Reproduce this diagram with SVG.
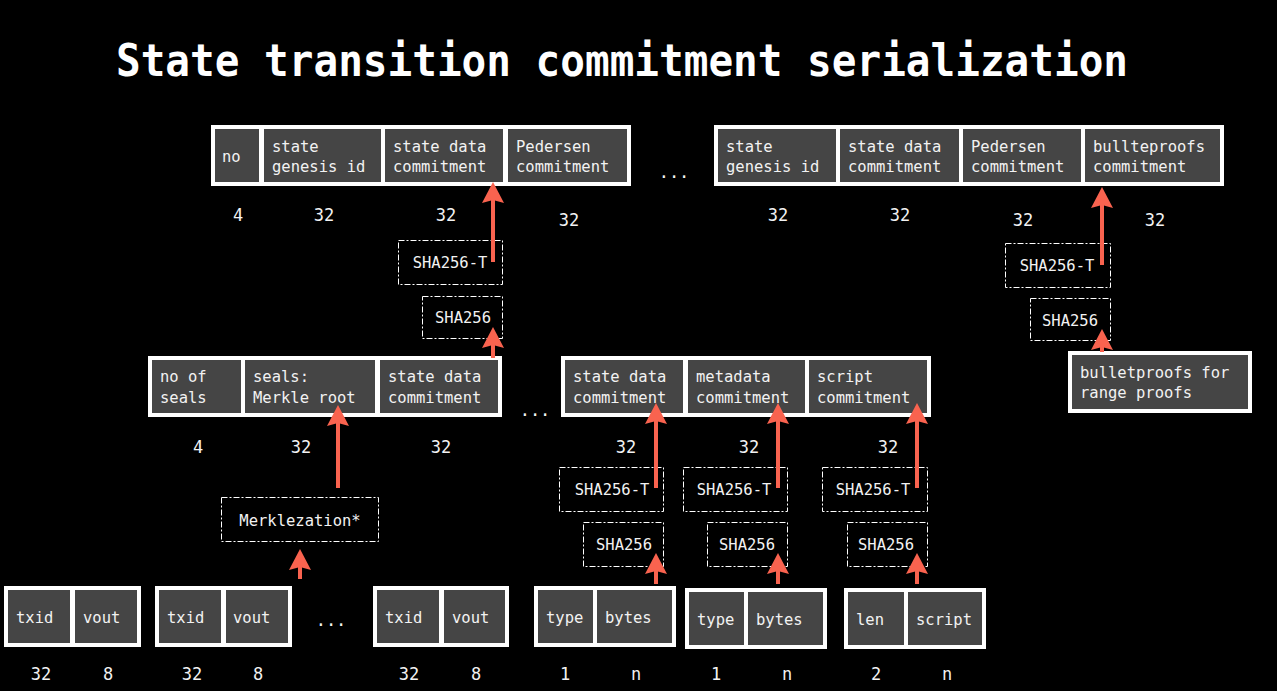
<svg xmlns="http://www.w3.org/2000/svg" width="1277" height="691" viewBox="0 0 1277 691">
<style>
.bg{fill:#000}
.outer{fill:#fff}
.cell{fill:#454545}
.t{font-family:"DejaVu Sans Mono","Liberation Mono",monospace;font-size:15.5px;fill:#f2f2f2}
.n{font-family:"DejaVu Sans Mono","Liberation Mono",monospace;font-size:17px;fill:#f2f2f2;text-anchor:middle}
.h{font-family:"DejaVu Sans Mono","Liberation Mono",monospace;font-size:15.5px;fill:#f2f2f2;text-anchor:middle}
.hb{fill:none;stroke:#fff;stroke-width:1;stroke-dasharray:6 2 2 2}
.title{font-family:"DejaVu Sans Mono","Liberation Mono",monospace;font-size:44px;font-weight:bold;fill:#fff}
.dots{font-family:"DejaVu Sans Mono","Liberation Mono",monospace;font-size:17px;fill:#f2f2f2;text-anchor:middle}
.arr{fill:none;stroke:#f9634f;stroke-width:4;marker-end:url(#ah)}
</style>
<defs>
<marker id="ah" viewBox="0 -11 21 22" refX="3" refY="0" markerWidth="21" markerHeight="22" markerUnits="userSpaceOnUse" orient="auto">
<path d="M0,-11 L21,0 L0,11 L3,0 Z" fill="#f9634f"/>
</marker>
</defs>
<rect class="bg" x="0" y="0" width="1277" height="691"/>
<text class="title" x="116" y="76" textLength="1012" lengthAdjust="spacingAndGlyphs">State transition commitment serialization</text>

<g id="rec-top-left">
<rect class="outer" x="211" y="125" width="420" height="61"/>
<rect class="cell" x="215" y="129" width="44" height="53"/>
<rect class="cell" x="264" y="129" width="117" height="53"/>
<rect class="cell" x="385" y="129" width="118" height="53"/>
<rect class="cell" x="508" y="129" width="119" height="53"/>
<text class="t" x="222" y="162">no</text>
<text class="t" x="272" y="152">state</text><text class="t" x="272" y="172">genesis id</text>
<text class="t" x="393" y="152">state data</text><text class="t" x="393" y="172">commitment</text>
<text class="t" x="516" y="152">Pedersen</text><text class="t" x="516" y="172">commitment</text>
<text class="n" x="238" y="221">4</text>
<text class="n" x="324" y="221">32</text>
<text class="n" x="446" y="221">32</text>
<text class="n" x="569" y="226">32</text>
</g>

<text class="dots" x="674" y="178">...</text>

<g id="rec-top-right">
<rect class="outer" x="714" y="125" width="510" height="61"/>
<rect class="cell" x="718" y="129" width="118" height="53"/>
<rect class="cell" x="840" y="129" width="119" height="53"/>
<rect class="cell" x="963" y="129" width="118" height="53"/>
<rect class="cell" x="1085" y="129" width="135" height="53"/>
<text class="t" x="726" y="152">state</text><text class="t" x="726" y="172">genesis id</text>
<text class="t" x="848" y="152">state data</text><text class="t" x="848" y="172">commitment</text>
<text class="t" x="971" y="152">Pedersen</text><text class="t" x="971" y="172">commitment</text>
<text class="t" x="1093" y="152">bullteproofs</text><text class="t" x="1093" y="172">commitment</text>
<text class="n" x="778" y="221">32</text>
<text class="n" x="900" y="221">32</text>
<text class="n" x="1023" y="226">32</text>
<text class="n" x="1155" y="226">32</text>
</g>

<g id="hash-sha256t-top"><rect class="hb" x="398.5" y="240.5" width="104" height="44"/><text class="h" x="450" y="268">SHA256-T</text></g>
<g id="hash-sha256-top"><rect class="hb" x="422.5" y="296.5" width="80" height="42"/><text class="h" x="463" y="323">SHA256</text></g>
<g id="hash-sha256t-bp"><rect class="hb" x="1005.5" y="243.5" width="105" height="44"/><text class="h" x="1057" y="271">SHA256-T</text></g>
<g id="hash-sha256-bp"><rect class="hb" x="1030.5" y="298.5" width="80" height="42"/><text class="h" x="1070" y="326">SHA256</text></g>

<g id="bulletproofs">
<rect class="outer" x="1068" y="351" width="184" height="62"/>
<rect class="cell" x="1072" y="355" width="176" height="54"/>
<text class="t" x="1080" y="378">bulletproofs for</text>
<text class="t" x="1080" y="398">range proofs</text>
</g>

<g id="rec-seals">
<rect class="outer" x="148" y="356" width="354" height="61"/>
<rect class="cell" x="152" y="360" width="89" height="53"/>
<rect class="cell" x="245" y="360" width="130" height="53"/>
<rect class="cell" x="380" y="360" width="118" height="53"/>
<text class="t" x="160" y="382">no of</text><text class="t" x="160" y="403">seals</text>
<text class="t" x="253" y="382">seals:</text><text class="t" x="253" y="403">Merkle root</text>
<text class="t" x="388" y="382">state data</text><text class="t" x="388" y="403">commitment</text>
<text class="n" x="198" y="453">4</text>
<text class="n" x="301" y="453">32</text>
<text class="n" x="441" y="453">32</text>
</g>

<text class="dots" x="535" y="416">...</text>

<g id="rec-state">
<rect class="outer" x="561" y="356" width="370" height="61"/>
<rect class="cell" x="565" y="360" width="118" height="53"/>
<rect class="cell" x="688" y="360" width="117" height="53"/>
<rect class="cell" x="809" y="360" width="118" height="53"/>
<text class="t" x="573" y="382">state data</text><text class="t" x="573" y="403">commitment</text>
<text class="t" x="696" y="382">metadata</text><text class="t" x="696" y="403">commitment</text>
<text class="t" x="817" y="382">script</text><text class="t" x="817" y="403">commitment</text>
<text class="n" x="626" y="453">32</text>
<text class="n" x="749" y="453">32</text>
<text class="n" x="888" y="453">32</text>
</g>

<g id="merklezation"><rect class="hb" x="221.5" y="497.5" width="157" height="44"/><text class="h" x="300" y="526">Merklezation*</text></g>

<g id="hash-sha256t-1"><rect class="hb" x="559.5" y="467.5" width="104" height="44"/><text class="h" x="612" y="495">SHA256-T</text></g>
<g id="hash-sha256t-2"><rect class="hb" x="683.5" y="467.5" width="104" height="44"/><text class="h" x="734" y="495">SHA256-T</text></g>
<g id="hash-sha256t-3"><rect class="hb" x="822.5" y="467.5" width="105" height="44"/><text class="h" x="873" y="495">SHA256-T</text></g>
<g id="hash-sha256-1"><rect class="hb" x="583.5" y="522.5" width="80" height="44"/><text class="h" x="624" y="550">SHA256</text></g>
<g id="hash-sha256-2"><rect class="hb" x="707.5" y="522.5" width="80" height="44"/><text class="h" x="747" y="550">SHA256</text></g>
<g id="hash-sha256-3"><rect class="hb" x="847.5" y="522.5" width="80" height="44"/><text class="h" x="886" y="550">SHA256</text></g>

<g id="seal-1">
<rect class="outer" x="4" y="586" width="137" height="61"/>
<rect class="cell" x="8" y="590" width="62" height="53"/>
<rect class="cell" x="75" y="590" width="62" height="53"/>
<text class="t" x="16" y="623">txid</text><text class="t" x="83" y="623">vout</text>
<text class="n" x="41" y="680">32</text><text class="n" x="108" y="680">8</text>
</g>
<g id="seal-2">
<rect class="outer" x="155" y="586" width="137" height="61"/>
<rect class="cell" x="159" y="590" width="62" height="53"/>
<rect class="cell" x="226" y="590" width="62" height="53"/>
<text class="t" x="167" y="623">txid</text><text class="t" x="233" y="623">vout</text>
<text class="n" x="192" y="680">32</text><text class="n" x="258" y="680">8</text>
</g>
<text class="dots" x="331" y="626">...</text>
<g id="seal-n">
<rect class="outer" x="373" y="586" width="136" height="61"/>
<rect class="cell" x="377" y="590" width="62" height="53"/>
<rect class="cell" x="444" y="590" width="61" height="53"/>
<text class="t" x="385" y="623">txid</text><text class="t" x="452" y="623">vout</text>
<text class="n" x="409" y="680">32</text><text class="n" x="476" y="680">8</text>
</g>
<g id="state-data">
<rect class="outer" x="534" y="586" width="142" height="61"/>
<rect class="cell" x="538" y="590" width="55" height="53"/>
<rect class="cell" x="597" y="590" width="75" height="53"/>
<text class="t" x="546" y="623">type</text><text class="t" x="605" y="623">bytes</text>
<text class="n" x="565" y="680">1</text><text class="n" x="636" y="680">n</text>
</g>
<g id="metadata">
<rect class="outer" x="685" y="588" width="142" height="61"/>
<rect class="cell" x="689" y="592" width="55" height="53"/>
<rect class="cell" x="748" y="592" width="75" height="53"/>
<text class="t" x="697" y="625">type</text><text class="t" x="756" y="625">bytes</text>
<text class="n" x="716" y="680">1</text><text class="n" x="787" y="680">n</text>
</g>
<g id="script">
<rect class="outer" x="844" y="588" width="142" height="61"/>
<rect class="cell" x="848" y="592" width="56" height="53"/>
<rect class="cell" x="908" y="592" width="74" height="53"/>
<text class="t" x="856" y="625">len</text><text class="t" x="916" y="625">script</text>
<text class="n" x="876" y="680">2</text><text class="n" x="947" y="680">n</text>
</g>

<g id="connectors">
<path class="arr" d="M493,262 V200"/>
<path class="arr" d="M493,358 V345"/>
<path class="arr" d="M1102,265 V205"/>
<path class="arr" d="M1102,352 V347"/>
<path class="arr" d="M338,488 V423"/>
<path class="arr" d="M300,579 V567"/>
<path class="arr" d="M656,488 V421"/>
<path class="arr" d="M778,488 V421"/>
<path class="arr" d="M917,488 V421"/>
<path class="arr" d="M656,584 V571"/>
<path class="arr" d="M778,584 V571"/>
<path class="arr" d="M917,584 V571"/>
</g>
</svg>
